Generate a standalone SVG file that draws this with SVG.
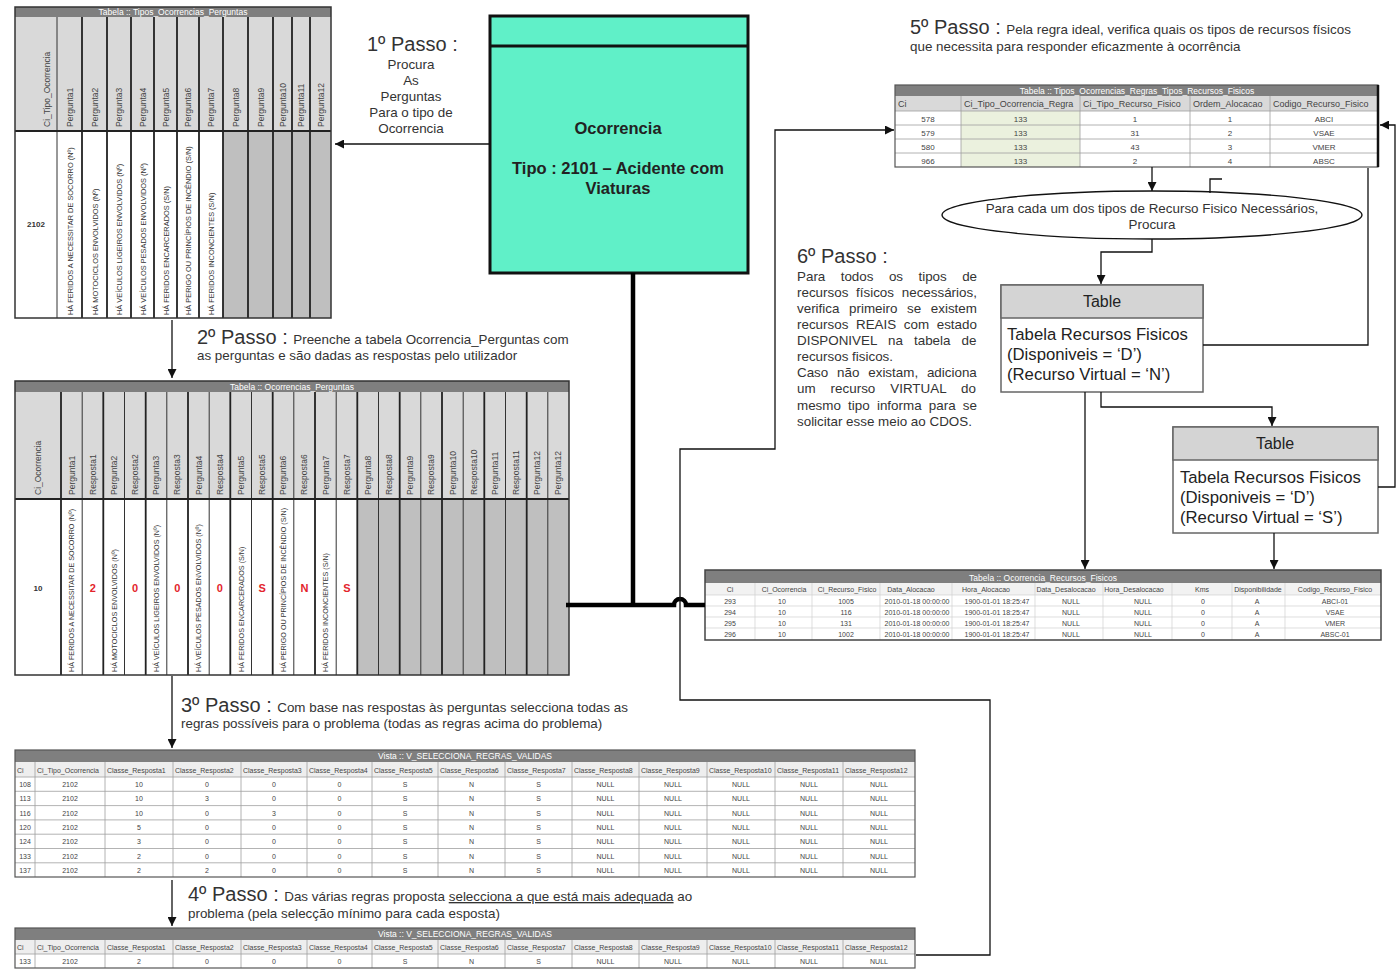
<svg xmlns="http://www.w3.org/2000/svg" width="1398" height="971" viewBox="0 0 1398 971">
<style>
text{font-family:"Liberation Sans",Arial,sans-serif}
.big{font-size:20px;fill:#333}
.sm{font-size:13.4px;fill:#333}
.tt{font-size:8.5px;fill:#fff;text-anchor:middle}
.hl{font-size:8.5px;fill:#444}
.q{font-size:7.4px;fill:#333}
.q2{font-size:7.2px;fill:#333}
.ans{font-size:11px;font-weight:bold;fill:#e3242b;text-anchor:middle}
.c{font-size:7px;fill:#444;text-anchor:middle}
.h{font-size:7px;fill:#444}
.c8{font-size:8px;fill:#444;text-anchor:middle}
.h9{font-size:9px;fill:#444}
.bar{fill:#7f7f7f}
.ob{fill:none;stroke:#333;stroke-width:1.5}
.gk{fill:none;stroke:#222;stroke-width:1.8}
.gt{fill:none;stroke:#333;stroke-width:1}
.gg{fill:none;stroke:#a0a0a0;stroke-width:0.8}
.gl{fill:none;stroke:#d0d0d0;stroke-width:0.7}
.cn{fill:none;stroke:#111;stroke-width:1.3}
.ck{fill:none;stroke:#000;stroke-width:4.5}
.bx{fill:#fff;stroke:#666;stroke-width:1.5}
.bh{fill:#d4d4d4;stroke:#666;stroke-width:1.5}
.bt{font-size:16px;fill:#222;text-anchor:middle}
.bb{font-size:16.7px;fill:#222}
.oc{font-size:16.5px;font-weight:bold;fill:#222;text-anchor:middle}
</style>
<defs>
<marker id="ar" viewBox="0 0 10 10" refX="10" refY="5" markerWidth="9" markerHeight="9" markerUnits="userSpaceOnUse" orient="auto"><path d="M0,0L10,5L0,10z" fill="#111"/></marker>
</defs>
<rect width="1398" height="971" fill="#fff"/>

<!-- Table 1 -->
<g id="tabela-tipos-ocorrencias-perguntas">
<rect x="15" y="17" width="316" height="114" fill="#d9d9d9"/>
<rect x="15" y="131" width="208" height="187" fill="#fff"/>
<rect x="223" y="131" width="108" height="187" fill="#bfbfbf"/>
<rect x="15" y="7" width="316" height="10" class="bar"/>
<text class="tt" x="173" y="15">Tabela :: Tipos_Ocorrencias_Perguntas</text>
<path class="gt" d="M57,17V318"/>
<path class="gk" d="M82,17V318M107,17V318M131,17V318M154,17V318M177,17V318M199,17V318M223,17V318M248,17V318M273,17V318M292,17V318M310,17V318M15,131H331"/>
<rect x="15" y="7" width="316" height="311" class="ob"/>
<text class="hl" transform="translate(50,127) rotate(-90)">Ci_Tipo_Ocorrencia</text>
<text class="hl" transform="translate(73,127) rotate(-90)">Pergunta1</text>
<text class="hl" transform="translate(98,127) rotate(-90)">Pergunta2</text>
<text class="hl" transform="translate(122,127) rotate(-90)">Pergunta3</text>
<text class="hl" transform="translate(146,127) rotate(-90)">Pergunta4</text>
<text class="hl" transform="translate(169,127) rotate(-90)">Pergunta5</text>
<text class="hl" transform="translate(191,127) rotate(-90)">Pergunta6</text>
<text class="hl" transform="translate(214,127) rotate(-90)">Pergunta7</text>
<text class="hl" transform="translate(239,127) rotate(-90)">Pergunta8</text>
<text class="hl" transform="translate(264,127) rotate(-90)">Pergunta9</text>
<text class="hl" transform="translate(286,127) rotate(-90)">Pergunta10</text>
<text class="hl" transform="translate(304,127) rotate(-90)">Pergunta11</text>
<text class="hl" transform="translate(324,127) rotate(-90)">Pergunta12</text>
<text x="36" y="227" font-size="8" font-weight="bold" fill="#333" text-anchor="middle">2102</text>
<text class="q" transform="translate(73,315) rotate(-90)">HÁ FERIDOS A NECESSITAR DE SOCORRO (Nº)</text>
<text class="q" transform="translate(98,315) rotate(-90)">HÁ MOTOCICLOS ENVOLVIDOS (Nº)</text>
<text class="q" transform="translate(122,315) rotate(-90)">HÁ VEÍCULOS LIGEIROS ENVOLVIDOS (Nº)</text>
<text class="q" transform="translate(146,315) rotate(-90)">HÁ VEÍCULOS PESADOS ENVOLVIDOS (Nº)</text>
<text class="q" transform="translate(169,315) rotate(-90)">HÁ FERIDOS ENCARCERADOS (S/N)</text>
<text class="q" transform="translate(191,315) rotate(-90)">HÁ PERIGO OU PRINCÍPIOS DE INCÊNDIO (S/N)</text>
<text class="q" transform="translate(214,315) rotate(-90)">HÁ FERIDOS INCONCIENTES (S/N)</text>
</g>

<!-- Table 2 -->
<g id="tabela-ocorrencias-perguntas">
<rect x="15" y="392" width="554" height="107" fill="#d9d9d9"/>
<rect x="15" y="499" width="343" height="176" fill="#fff"/>
<rect x="357.3" y="499" width="211.7" height="176" fill="#bfbfbf"/>
<rect x="15" y="381" width="554" height="11" class="bar"/>
<text class="tt" x="292" y="389.5">Tabela :: Ocorrencias_Perguntas</text>
<path class="gt" d="M82.2,392V675M124.5,392V675M166.8,392V675M209.2,392V675M251.5,392V675M293.8,392V675M336.2,392V675M378.5,392V675M420.8,392V675M463.2,392V675M505.5,392V675M547.8,392V675"/>
<path class="gk" d="M61,392V675M103.3,392V675M145.7,392V675M188,392V675M230.3,392V675M272.7,392V675M315,392V675M357.3,392V675M399.7,392V675M442,392V675M484.3,392V675M526.7,392V675M15,499H569"/>
<rect x="15" y="381" width="554" height="294" class="ob"/>
<text class="hl" transform="translate(41,495) rotate(-90)">Ci_Ocorrencia</text>
<text class="hl" transform="translate(74.6,495) rotate(-90)">Pergunta1</text>
<text class="hl" transform="translate(95.8,495) rotate(-90)">Resposta1</text>
<text class="hl" transform="translate(116.9,495) rotate(-90)">Pergunta2</text>
<text class="hl" transform="translate(138.1,495) rotate(-90)">Resposta2</text>
<text class="hl" transform="translate(159.3,495) rotate(-90)">Pergunta3</text>
<text class="hl" transform="translate(180.4,495) rotate(-90)">Resposta3</text>
<text class="hl" transform="translate(201.6,495) rotate(-90)">Pergunta4</text>
<text class="hl" transform="translate(222.8,495) rotate(-90)">Resposta4</text>
<text class="hl" transform="translate(243.9,495) rotate(-90)">Pergunta5</text>
<text class="hl" transform="translate(265.1,495) rotate(-90)">Resposta5</text>
<text class="hl" transform="translate(286.3,495) rotate(-90)">Pergunta6</text>
<text class="hl" transform="translate(307.4,495) rotate(-90)">Resposta6</text>
<text class="hl" transform="translate(328.6,495) rotate(-90)">Pergunta7</text>
<text class="hl" transform="translate(349.8,495) rotate(-90)">Resposta7</text>
<text class="hl" transform="translate(370.9,495) rotate(-90)">Pergunta8</text>
<text class="hl" transform="translate(392.1,495) rotate(-90)">Resposta8</text>
<text class="hl" transform="translate(413.3,495) rotate(-90)">Pergunta9</text>
<text class="hl" transform="translate(434.4,495) rotate(-90)">Resposta9</text>
<text class="hl" transform="translate(455.6,495) rotate(-90)">Pergunta10</text>
<text class="hl" transform="translate(476.8,495) rotate(-90)">Resposta10</text>
<text class="hl" transform="translate(497.9,495) rotate(-90)">Pergunta11</text>
<text class="hl" transform="translate(519.1,495) rotate(-90)">Resposta11</text>
<text class="hl" transform="translate(540.3,495) rotate(-90)">Pergunta12</text>
<text class="hl" transform="translate(561.4,495) rotate(-90)">Pergunta12</text>
<text x="38" y="591" font-size="8" font-weight="bold" fill="#333" text-anchor="middle">10</text>
<text class="q2" transform="translate(74.2,672) rotate(-90)">HÁ FERIDOS A NECESSITAR DE SOCORRO (Nº)</text>
<text class="q2" transform="translate(116.5,672) rotate(-90)">HÁ MOTOCICLOS ENVOLVIDOS (Nº)</text>
<text class="q2" transform="translate(158.9,672) rotate(-90)">HÁ VEÍCULOS LIGEIROS ENVOLVIDOS (Nº)</text>
<text class="q2" transform="translate(201.2,672) rotate(-90)">HÁ VEÍCULOS PESADOS ENVOLVIDOS (Nº)</text>
<text class="q2" transform="translate(243.5,672) rotate(-90)">HÁ FERIDOS ENCARCERADOS (S/N)</text>
<text class="q2" transform="translate(285.9,672) rotate(-90)">HÁ PERIGO OU PRINCÍPIOS DE INCÊNDIO (S/N)</text>
<text class="q2" transform="translate(328.2,672) rotate(-90)">HÁ FERIDOS INCONCIENTES (S/N)</text>
<text class="ans" y="592"><tspan x="92.8">2</tspan><tspan x="135.1">0</tspan><tspan x="177.4">0</tspan><tspan x="219.8">0</tspan><tspan x="262.1">S</tspan><tspan x="304.4">N</tspan><tspan x="346.8">S</tspan></text>
</g>

<!-- Table 3 -->
<g id="vista-regras-validas">
<rect x="15" y="762" width="900" height="15" fill="#eeeeee"/>
<rect x="15" y="777" width="900" height="100" fill="#fff"/>
<rect x="15" y="750" width="900" height="12" class="bar"/>
<text class="tt" x="465" y="759" font-size="7.5">Vista :: V_SELECCIONA_REGRAS_VALIDAS</text>
<path class="gg" d="M35,762V877M105,762V877M173,762V877M241,762V877M307,762V877M372,762V877M438,762V877M505,762V877M572,762V877M639,762V877M707,762V877M775,762V877M843,762V877M15,777H915M15,791.3H915M15,805.6H915M15,819.9H915M15,834.2H915M15,848.5H915M15,862.8H915"/>
<rect x="15" y="750" width="900" height="127" fill="none" stroke="#555" stroke-width="1.2"/>
<text class="h" y="772.5"><tspan x="17">Ci</tspan><tspan x="37">Ci_Tipo_Ocorrencia</tspan><tspan x="107">Classe_Resposta1</tspan><tspan x="175">Classe_Resposta2</tspan><tspan x="243">Classe_Resposta3</tspan><tspan x="309">Classe_Resposta4</tspan><tspan x="374">Classe_Resposta5</tspan><tspan x="440">Classe_Resposta6</tspan><tspan x="507">Classe_Resposta7</tspan><tspan x="574">Classe_Resposta8</tspan><tspan x="641">Classe_Resposta9</tspan><tspan x="709">Classe_Resposta10</tspan><tspan x="777">Classe_Resposta11</tspan><tspan x="845">Classe_Resposta12</tspan></text>
<text class="c" y="787"><tspan x="25">108</tspan><tspan x="70">2102</tspan><tspan x="139">10</tspan><tspan x="207">0</tspan><tspan x="274">0</tspan><tspan x="339.5">0</tspan><tspan x="405">S</tspan><tspan x="471.5">N</tspan><tspan x="538.5">S</tspan><tspan x="605.5">NULL</tspan><tspan x="673">NULL</tspan><tspan x="741">NULL</tspan><tspan x="809">NULL</tspan><tspan x="879">NULL</tspan></text>
<text class="c" y="801.3"><tspan x="25">113</tspan><tspan x="70">2102</tspan><tspan x="139">10</tspan><tspan x="207">3</tspan><tspan x="274">0</tspan><tspan x="339.5">0</tspan><tspan x="405">S</tspan><tspan x="471.5">N</tspan><tspan x="538.5">S</tspan><tspan x="605.5">NULL</tspan><tspan x="673">NULL</tspan><tspan x="741">NULL</tspan><tspan x="809">NULL</tspan><tspan x="879">NULL</tspan></text>
<text class="c" y="815.6"><tspan x="25">116</tspan><tspan x="70">2102</tspan><tspan x="139">10</tspan><tspan x="207">0</tspan><tspan x="274">3</tspan><tspan x="339.5">0</tspan><tspan x="405">S</tspan><tspan x="471.5">N</tspan><tspan x="538.5">S</tspan><tspan x="605.5">NULL</tspan><tspan x="673">NULL</tspan><tspan x="741">NULL</tspan><tspan x="809">NULL</tspan><tspan x="879">NULL</tspan></text>
<text class="c" y="829.9"><tspan x="25">120</tspan><tspan x="70">2102</tspan><tspan x="139">5</tspan><tspan x="207">0</tspan><tspan x="274">0</tspan><tspan x="339.5">0</tspan><tspan x="405">S</tspan><tspan x="471.5">N</tspan><tspan x="538.5">S</tspan><tspan x="605.5">NULL</tspan><tspan x="673">NULL</tspan><tspan x="741">NULL</tspan><tspan x="809">NULL</tspan><tspan x="879">NULL</tspan></text>
<text class="c" y="844.2"><tspan x="25">124</tspan><tspan x="70">2102</tspan><tspan x="139">3</tspan><tspan x="207">0</tspan><tspan x="274">0</tspan><tspan x="339.5">0</tspan><tspan x="405">S</tspan><tspan x="471.5">N</tspan><tspan x="538.5">S</tspan><tspan x="605.5">NULL</tspan><tspan x="673">NULL</tspan><tspan x="741">NULL</tspan><tspan x="809">NULL</tspan><tspan x="879">NULL</tspan></text>
<text class="c" y="858.5"><tspan x="25">133</tspan><tspan x="70">2102</tspan><tspan x="139">2</tspan><tspan x="207">0</tspan><tspan x="274">0</tspan><tspan x="339.5">0</tspan><tspan x="405">S</tspan><tspan x="471.5">N</tspan><tspan x="538.5">S</tspan><tspan x="605.5">NULL</tspan><tspan x="673">NULL</tspan><tspan x="741">NULL</tspan><tspan x="809">NULL</tspan><tspan x="879">NULL</tspan></text>
<text class="c" y="872.8"><tspan x="25">137</tspan><tspan x="70">2102</tspan><tspan x="139">2</tspan><tspan x="207">2</tspan><tspan x="274">0</tspan><tspan x="339.5">0</tspan><tspan x="405">S</tspan><tspan x="471.5">N</tspan><tspan x="538.5">S</tspan><tspan x="605.5">NULL</tspan><tspan x="673">NULL</tspan><tspan x="741">NULL</tspan><tspan x="809">NULL</tspan><tspan x="879">NULL</tspan></text>
</g>

<!-- Table 4 -->
<g id="vista-regra-escolhida">
<rect x="15" y="940" width="900" height="14" fill="#eeeeee"/>
<rect x="15" y="954" width="900" height="14" fill="#fff"/>
<rect x="15" y="928" width="900" height="12" class="bar"/>
<text class="tt" x="465" y="937" font-size="7.5">Vista :: V_SELECCIONA_REGRAS_VALIDAS</text>
<path class="gg" d="M35,940V968M105,940V968M173,940V968M241,940V968M307,940V968M372,940V968M438,940V968M505,940V968M572,940V968M639,940V968M707,940V968M775,940V968M843,940V968M15,954H915"/>
<rect x="15" y="928" width="900" height="40" fill="none" stroke="#555" stroke-width="1.2"/>
<text class="h" y="950"><tspan x="17">Ci</tspan><tspan x="37">Ci_Tipo_Ocorrencia</tspan><tspan x="107">Classe_Resposta1</tspan><tspan x="175">Classe_Resposta2</tspan><tspan x="243">Classe_Resposta3</tspan><tspan x="309">Classe_Resposta4</tspan><tspan x="374">Classe_Resposta5</tspan><tspan x="440">Classe_Resposta6</tspan><tspan x="507">Classe_Resposta7</tspan><tspan x="574">Classe_Resposta8</tspan><tspan x="641">Classe_Resposta9</tspan><tspan x="709">Classe_Resposta10</tspan><tspan x="777">Classe_Resposta11</tspan><tspan x="845">Classe_Resposta12</tspan></text>
<text class="c" y="964"><tspan x="25">133</tspan><tspan x="70">2102</tspan><tspan x="139">2</tspan><tspan x="207">0</tspan><tspan x="274">0</tspan><tspan x="339.5">0</tspan><tspan x="405">S</tspan><tspan x="471.5">N</tspan><tspan x="538.5">S</tspan><tspan x="605.5">NULL</tspan><tspan x="673">NULL</tspan><tspan x="741">NULL</tspan><tspan x="809">NULL</tspan><tspan x="879">NULL</tspan></text>
</g>

<!-- Ocorrencia box -->
<g id="ocorrencia">
<rect x="490" y="16" width="258" height="257" fill="#60f0c8" stroke="#111" stroke-width="3"/>
<path d="M490,46H748" stroke="#111" stroke-width="3"/>
<text class="oc" x="618" y="134">Ocorrencia</text>
<text class="oc" x="618" y="174">Tipo : 2101 – Acidente com</text>
<text class="oc" x="618" y="194">Viaturas</text>
</g>

<!-- Top-right table -->
<g id="tabela-regras-recursos">
<rect x="895" y="96" width="483" height="15" fill="#d9d9d9"/>
<rect x="895" y="111" width="483" height="56" fill="#fff"/>
<rect x="961" y="111" width="119" height="56" fill="#ebf1de"/>
<rect x="895" y="85" width="483" height="11" class="bar"/>
<text class="tt" x="1137" y="93.5" font-size="9.2">Tabela :: Tipos_Ocorrencias_Regras_Tipos_Recursos_Fisicos</text>
<path class="gg" d="M961,96V167M1080,96V167M1190,96V167M1270,96V167M895,111H1378M895,125H1378M895,139H1378M895,153H1378"/>
<rect x="895" y="85" width="483" height="82" fill="none" stroke="#555" stroke-width="1.2"/>
<path d="M1378,85V167" stroke="#111" stroke-width="2.5"/>
<text class="h9" y="107"><tspan x="898">Ci</tspan><tspan x="964">Ci_Tipo_Ocorrencia_Regra</tspan><tspan x="1083">Ci_Tipo_Recurso_Fisico</tspan><tspan x="1193">Ordem_Alocacao</tspan><tspan x="1273">Codigo_Recurso_Fisico</tspan></text>
<text class="c8" y="121.5"><tspan x="928">578</tspan><tspan x="1020.5">133</tspan><tspan x="1135">1</tspan><tspan x="1230">1</tspan><tspan x="1324">ABCI</tspan></text>
<text class="c8" y="135.5"><tspan x="928">579</tspan><tspan x="1020.5">133</tspan><tspan x="1135">31</tspan><tspan x="1230">2</tspan><tspan x="1324">VSAE</tspan></text>
<text class="c8" y="149.5"><tspan x="928">580</tspan><tspan x="1020.5">133</tspan><tspan x="1135">43</tspan><tspan x="1230">3</tspan><tspan x="1324">VMER</tspan></text>
<text class="c8" y="163.5"><tspan x="928">966</tspan><tspan x="1020.5">133</tspan><tspan x="1135">2</tspan><tspan x="1230">4</tspan><tspan x="1324">ABSC</tspan></text>
</g>

<!-- Ellipse -->
<g id="procura-recursos">
<ellipse cx="1152" cy="215" rx="210" ry="24" fill="#fff" stroke="#111" stroke-width="1.3"/>
<text class="sm" x="1152" y="213" text-anchor="middle">Para cada um dos tipos de Recurso Fisico Necessários,</text>
<text class="sm" x="1152" y="229" text-anchor="middle">Procura</text>
</g>

<!-- Table box 1 -->
<g id="table-recursos-n">
<rect x="1001" y="285" width="202" height="107" class="bx"/>
<rect x="1001" y="285" width="202" height="33" class="bh"/>
<text class="bt" x="1102" y="307">Table</text>
<text class="bb" x="1007" y="340">Tabela Recursos Fisicos</text>
<text class="bb" x="1007" y="360">(Disponiveis = ‘D’)</text>
<text class="bb" x="1007" y="380">(Recurso Virtual = ‘N’)</text>
</g>

<!-- Table box 2 -->
<g id="table-recursos-s">
<rect x="1173" y="427" width="205" height="106" class="bx"/>
<rect x="1173" y="427" width="205" height="33" class="bh"/>
<text class="bt" x="1275" y="449">Table</text>
<text class="bb" x="1180" y="483">Tabela Recursos Fisicos</text>
<text class="bb" x="1180" y="503">(Disponiveis = ‘D’)</text>
<text class="bb" x="1180" y="523">(Recurso Virtual = ‘S’)</text>
</g>

<!-- ORF table -->
<g id="tabela-ocorrencia-recursos-fisicos">
<rect x="705" y="583" width="676" height="12" fill="#f2f2f2"/>
<rect x="705" y="595" width="676" height="45" fill="#fff"/>
<rect x="705" y="570" width="676" height="13" class="bar"/>
<text class="tt" x="1043" y="580.5" font-size="10.5">Tabela :: Ocorrencia_Recursos_Fisicos</text>
<path class="gl" d="M755,583V640M812,583V640M880,583V640M952,583V640M1035,583V640M1103,583V640M1172,583V640M1232,583V640M1285,583V640M705,595H1381M705,606H1381M705,617H1381M705,628H1381"/>
<rect x="705" y="570" width="676" height="70" fill="none" stroke="#444" stroke-width="1.5"/>
<text class="c" y="592" font-size="6.3"><tspan x="730">Ci</tspan><tspan x="784">Ci_Ocorrencia</tspan><tspan x="847">Ci_Recurso_Fisico</tspan><tspan x="911">Data_Alocacao</tspan><tspan x="986">Hora_Alocacao</tspan><tspan x="1066">Data_Desalocacao</tspan><tspan x="1134">Hora_Desalocacao</tspan><tspan x="1202">Kms</tspan><tspan x="1258">Disponibilidade</tspan><tspan x="1335">Codigo_Recurso_Fisico</tspan></text>
<text class="c" y="603.5" font-size="6.8"><tspan x="730">293</tspan><tspan x="782">10</tspan><tspan x="846">1005</tspan><tspan x="917">2010-01-18 00:00:00</tspan><tspan x="997">1900-01-01 18:25:47</tspan><tspan x="1071">NULL</tspan><tspan x="1143">NULL</tspan><tspan x="1203">0</tspan><tspan x="1257">A</tspan><tspan x="1335">ABCI-01</tspan></text>
<text class="c" y="614.5" font-size="6.8"><tspan x="730">294</tspan><tspan x="782">10</tspan><tspan x="846">116</tspan><tspan x="917">2010-01-18 00:00:00</tspan><tspan x="997">1900-01-01 18:25:47</tspan><tspan x="1071">NULL</tspan><tspan x="1143">NULL</tspan><tspan x="1203">0</tspan><tspan x="1257">A</tspan><tspan x="1335">VSAE</tspan></text>
<text class="c" y="625.5" font-size="6.8"><tspan x="730">295</tspan><tspan x="782">10</tspan><tspan x="846">131</tspan><tspan x="917">2010-01-18 00:00:00</tspan><tspan x="997">1900-01-01 18:25:47</tspan><tspan x="1071">NULL</tspan><tspan x="1143">NULL</tspan><tspan x="1203">0</tspan><tspan x="1257">A</tspan><tspan x="1335">VMER</tspan></text>
<text class="c" y="636.5" font-size="6.8"><tspan x="730">296</tspan><tspan x="782">10</tspan><tspan x="846">1002</tspan><tspan x="917">2010-01-18 00:00:00</tspan><tspan x="997">1900-01-01 18:25:47</tspan><tspan x="1071">NULL</tspan><tspan x="1143">NULL</tspan><tspan x="1203">0</tspan><tspan x="1257">A</tspan><tspan x="1335">ABSC-01</tspan></text>
</g>

<!-- Step texts -->
<g id="passo1">
<text class="big" x="367" y="51">1º Passo :</text>
<text class="sm" x="411" text-anchor="middle"><tspan x="411" y="69">Procura</tspan><tspan x="411" y="85">As</tspan><tspan x="411" y="101">Perguntas</tspan><tspan x="411" y="117">Para o tipo de</tspan><tspan x="411" y="133">Ocorrencia</tspan></text>
</g>
<g id="passo2">
<text x="197" y="344"><tspan class="big">2º Passo : </tspan><tspan class="sm">Preenche a tabela Ocorrencia_Perguntas com</tspan></text>
<text class="sm" x="197" y="360">as perguntas e são dadas as respostas pelo utilizador</text>
</g>
<g id="passo3">
<text x="181" y="712"><tspan class="big">3º Passo : </tspan><tspan class="sm">Com base nas respostas às perguntas selecciona todas as</tspan></text>
<text class="sm" x="181" y="728">regras possíveis para o problema (todas as regras acima do problema)</text>
</g>
<g id="passo4">
<text x="188" y="901"><tspan class="big">4º Passo : </tspan><tspan class="sm">Das várias regras proposta </tspan><tspan class="sm" text-decoration="underline">selecciona a que está mais adequada</tspan><tspan class="sm"> ao</tspan></text>
<text class="sm" x="188" y="918">problema (pela selecção mínimo para cada esposta)</text>
</g>
<g id="passo5">
<text x="910" y="34"><tspan class="big">5º Passo : </tspan><tspan class="sm">Pela regra ideal, verifica quais os tipos de recursos físicos</tspan></text>
<text class="sm" x="910" y="51">que necessita para responder eficazmente à ocorrência</text>
</g>
<g id="passo6">
<text class="big" x="797" y="263">6º Passo :</text>
<text class="sm" x="797" y="281" word-spacing="11.7">Para todos os tipos de</text>
<text class="sm" x="797" y="297" word-spacing="4">recursos físicos necessários,</text>
<text class="sm" x="797" y="313" word-spacing="5.9">verifica primeiro se existem</text>
<text class="sm" x="797" y="329" word-spacing="3.9">recursos REAIS com estado</text>
<text class="sm" x="797" y="345" word-spacing="7.4">DISPONIVEL na tabela de</text>
<text class="sm" x="797" y="361">recursos fisicos.</text>
<text class="sm" x="797" y="377" word-spacing="5.1">Caso não existam, adiciona</text>
<text class="sm" x="797" y="393" word-spacing="11.3">um recurso VIRTUAL do</text>
<text class="sm" x="797" y="410" word-spacing="3.5">mesmo tipo informa para se</text>
<text class="sm" x="797" y="426">solicitar esse meio ao CDOS.</text>
</g>

<!-- Connectors -->
<g id="connectors">
<path class="ck" d="M633,273V605"/>
<path class="ck" d="M566,605H674A6,6 0 0 1 686,605H705"/>
<path class="cn" d="M490,144H335" marker-end="url(#ar)"/>
<path class="cn" d="M172,320V378" marker-end="url(#ar)"/>
<path class="cn" d="M172,676V748" marker-end="url(#ar)"/>
<path class="cn" d="M172,880V926" marker-end="url(#ar)"/>
<path class="cn" d="M916,955H990V700H680V449H775V130H894" marker-end="url(#ar)"/>
<path class="cn" d="M1152,167V191" marker-end="url(#ar)"/>
<path class="cn" d="M1210,193V179H1222"/>
<path class="cn" d="M1152,239V252H1101V284" marker-end="url(#ar)"/>
<path class="cn" d="M1085,392V569" marker-end="url(#ar)"/>
<path class="cn" d="M1101,392V407H1272V426" marker-end="url(#ar)"/>
<path class="cn" d="M1274,533V569" marker-end="url(#ar)"/>
<path class="cn" d="M1203,345H1368V168"/>
<path class="cn" d="M1378,487H1395V125H1380" marker-end="url(#ar)"/>
</g>
</svg>
